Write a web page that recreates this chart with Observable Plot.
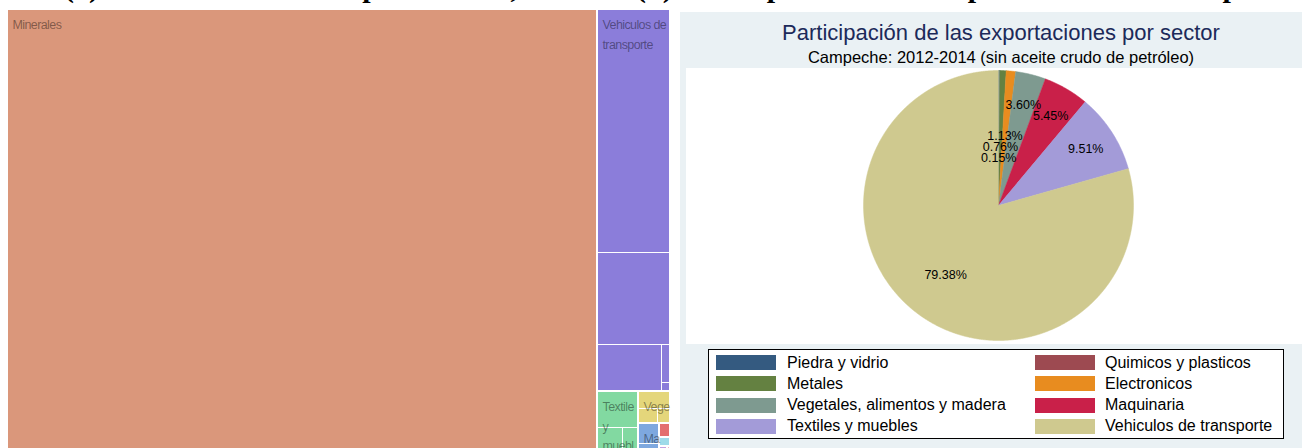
<!DOCTYPE html>
<html>
<head>
<meta charset="utf-8">
<script src="https://cdn.jsdelivr.net/npm/d3@7"></script>
<script src="https://cdn.jsdelivr.net/npm/@observablehq/plot@0.6"></script>
<style>
  html, body { margin: 0; padding: 0; background: #fff; overflow: hidden; width: 1302px; height: 448px; }
  #page { position: relative; width: 1302px; height: 448px; overflow: hidden; }
  #tops { position: absolute; left: 0; top: 0; overflow: hidden; }
  #tops text { font: bold 30px "Liberation Serif", "Times New Roman", serif; fill: #000; }
  #panel { position: absolute; left: 680px; top: 12px; width: 640px; height: 440px; background: #eaf1f4; }
  .ptext { position: absolute; left: 680px; width: 642px; text-align: center; white-space: nowrap; font-family: "Liberation Sans", Arial, sans-serif; }
  #legend { position: absolute; left: 708px; top: 349px; width: 576px; height: 90px; box-sizing: border-box; border: 1px solid #000; background: #fff; font: 16px "Liberation Sans", Arial, sans-serif; }
  .sw { position: absolute; width: 60px; height: 15px; }
  .lt { position: absolute; white-space: nowrap; line-height: 16px; }
</style>
</head>
<body>
<div id="page">
  <svg id="tops" width="1302" height="12"><text id="titleA" x="64" y="-3.5"></text><text id="titleB" x="636" y="-3.5"></text></svg>
  <div id="tm" style="position:absolute; left:0; top:0;"></div>
  <div id="panel"></div>
  <div class="ptext" id="ptitle" style="top:22px; font-size:22px; line-height:22px; color:#1c2a5a;"></div>
  <div class="ptext" id="psub" style="top:49px; font-size:16.5px; line-height:16.5px; color:#000;"></div>
  <div id="pie" style="position:absolute; left:686px; top:68px;"></div>
  <div id="legend"></div>
</div>
<script>
// ---------------- DATA ----------------
const titleA = "(a) Estructura de las exportaciones, 2014";
const titleB = "(b) Participación de las exportaciones de Campeche";

// Treemap (left): sectors and their product-level values (share of exports, %)
const tmSectors = ["Minerales", "Vehiculos de transporte", "Textiles y muebles", "Vegetales, alimentos y madera",
                   "Maquinaria", "Electronicos", "Quimicos y plasticos", "Metales", "Piedra y vidrio"];
const tmProductSector = [0, 1, 1, 1, 1, 1, 2, 2, 2, 3, 3, 3, 4, 4, 5, 6, 7, 8];
const tmProductValue  = [88.99, 6.042, 2.273, 1.023, 0.107, 0.021, 0.50, 0.22, 0.135, 0.20, 0.10, 0.059, 0.15, 0.065, 0.05, 0.035, 0.018, 0.008];

// Pie (right)
const pieTitle = "Participación de las exportaciones por sector";
const pieSubtitle = "Campeche: 2012-2014 (sin aceite crudo de petróleo)";
const pieSectors = ["Piedra y vidrio", "Quimicos y plasticos", "Metales", "Electronicos",
                    "Vegetales, alimentos y madera", "Maquinaria", "Textiles y muebles", "Vehiculos de transporte"];
const pieShares = [0.15, 0, 0.76, 1.13, 3.60, 5.45, 9.51, 79.38];

// ---------------- STYLE ----------------
const tmColors = ["#da977b", "#8b7dda", "#82d9a1", "#e4d67b", "#7ea8df", "#e36f6f", "#9edbe9", "#c3a3e0", "#f2b4c4"];
const pieColors = ["#345a80", "#9d4a51", "#648141", "#e88c1f", "#7e9a90", "#c92049", "#a39bd8", "#cfc98f"];
const labelFont = "'Liberation Sans', Arial, sans-serif";
const labelSpacing = -0.6;

document.getElementById("titleA").textContent = titleA;
document.getElementById("titleB").textContent = titleB;
document.getElementById("ptitle").textContent = pieTitle;
document.getElementById("psub").textContent = pieSubtitle;

// ---------------- TREEMAP ----------------
const TW = 661, TH = 442;
const tree = {children: tmSectors.map((name, si) => ({
  name, si,
  children: tmProductValue.map((v, i) => ({si: tmProductSector[i], value: v})).filter(d => d.si === si)
}))};
const root = d3.hierarchy(tree).sum(d => d.value).sort((a, b) => b.value - a.value);
d3.treemap().tile(d3.treemapSquarify.ratio(1)).size([TW, TH])
  .paddingInner(d => d.depth === 0 ? 2 : 1).round(true)(root);

const leaves = root.leaves().map(l => ({x0: l.x0, x1: l.x1, y0: l.y0, y1: l.y1, color: tmColors[l.data.si]}));

const ctx = document.createElement("canvas").getContext("2d");
ctx.font = "12.5px " + labelFont;
const measure = s => ctx.measureText(s).width + labelSpacing * s.length;
const LH = 19.5;
function wrapLabel(text, w, height) {
  const wrapW = w - 5, clipW = w - 2.5;
  const words = text.split(/\s+/);
  const lines = [];
  let cur = "";
  for (const word of words) {
    const t = cur ? cur + " " + word : word;
    if (measure(t) <= wrapW) cur = t;
    else { if (cur) lines.push(cur); cur = word; }
  }
  if (cur) lines.push(cur);
  const clipped = lines.map(l => { let s = l; while (s.length && measure(s) > clipW) s = s.slice(0, -1); return s; });
  const out = [];
  clipped.forEach((l, i) => { if (5 + i * LH + 10 <= height && l.length) out.push(l); });
  return out.join("\n");
}
const sectorLabels = root.children
  .filter(n => (n.x1 - n.x0) >= 16)
  .map(n => ({x: n.x0, y: n.y0, label: wrapLabel(n.data.name, n.x1 - n.x0, n.y1 - n.y0)}))
  .filter(d => d.label);

const tmPlot = Plot.plot({
  width: 680, height: 448, margin: 0,
  x: {domain: [0, TW], range: [8, 8 + TW], axis: null},
  y: {domain: [0, TH], range: [10, 10 + TH], axis: null},
  color: {type: "identity"},
  style: {background: "transparent"},
  marks: [
    Plot.rect(leaves, {x1: "x0", x2: "x1", y1: "y0", y2: "y1", fill: "color"}),
    Plot.text(sectorLabels, {x: "x", y: "y", text: "label", textAnchor: "start", lineAnchor: "top",
      dx: 4, dy: 5, fontSize: 12.5, lineHeight: 1.56, fontFamily: labelFont, fill: "black", fillOpacity: 0.42})
  ]
});
tmPlot.querySelectorAll("text").forEach(t => { t.style.letterSpacing = labelSpacing + "px"; });
document.getElementById("tm").appendChild(tmPlot);

// ---------------- PIE ----------------
const total = d3.sum(pieShares);
let acc = 0;
const slices = pieSectors.map((name, i) => {
  const a0 = acc / total * 2 * Math.PI;
  acc += pieShares[i];
  const a1 = acc / total * 2 * Math.PI;
  return {name, share: pieShares[i], a0, a1, color: pieColors[i]};
}).filter(s => s.share > 0);

const piePts = [];
for (const s of slices) {
  piePts.push({name: s.name, color: s.color, x: 0, y: 0});
  const n = Math.max(2, Math.ceil((s.a1 - s.a0) / (Math.PI / 720)));
  for (let k = 0; k <= n; k++) {
    const a = s.a0 + (s.a1 - s.a0) * k / n;
    piePts.push({name: s.name, color: s.color, x: Math.sin(a), y: Math.cos(a)});
  }
}
const small = slices.filter(s => s.share < 2).sort((a, b) => b.share - a.share);
const pieLabels = slices.map(s => {
  const mid = (s.a0 + s.a1) / 2;
  const r = s.share > 50 ? 0.65 : s.share >= 2 ? 0.77 : 0.52 - 0.085 * small.indexOf(s);
  return {x: r * Math.sin(mid), y: r * Math.cos(mid), label: s.share.toFixed(2) + "%"};
});

const R = 135, CX = 312, CY = 137;
const piePlot = Plot.plot({
  width: 616, height: 276, margin: 0,
  x: {domain: [-1, 1], range: [CX - R, CX + R], axis: null},
  y: {domain: [-1, 1], range: [CY + R, CY - R], axis: null},
  color: {type: "identity"},
  style: {background: "white"},
  marks: [
    Plot.line(piePts, {x: "x", y: "y", z: "name", fill: "color", stroke: "color", strokeWidth: 0.5, curve: "linear-closed"}),
    Plot.text(pieLabels, {x: "x", y: "y", text: "label", fontSize: 12.5, fill: "black",
      fontFamily: "'Liberation Sans', Arial, sans-serif"})
  ]
});
document.getElementById("pie").appendChild(piePlot);

// ---------------- LEGEND ----------------
const legend = document.getElementById("legend");
pieSectors.forEach((name, i) => {
  const col = i % 2, row = Math.floor(i / 2);
  const sw = document.createElement("div");
  sw.className = "sw";
  sw.style.left = (7 + col * 319) + "px";
  sw.style.top = (5 + row * 21.3) + "px";
  sw.style.background = pieColors[i];
  legend.appendChild(sw);
  const t = document.createElement("div");
  t.className = "lt";
  t.style.left = (78 + col * 318) + "px";
  t.style.top = (4.5 + row * 21.3) + "px";
  t.textContent = name;
  legend.appendChild(t);
});
</script>
</body>
</html>
